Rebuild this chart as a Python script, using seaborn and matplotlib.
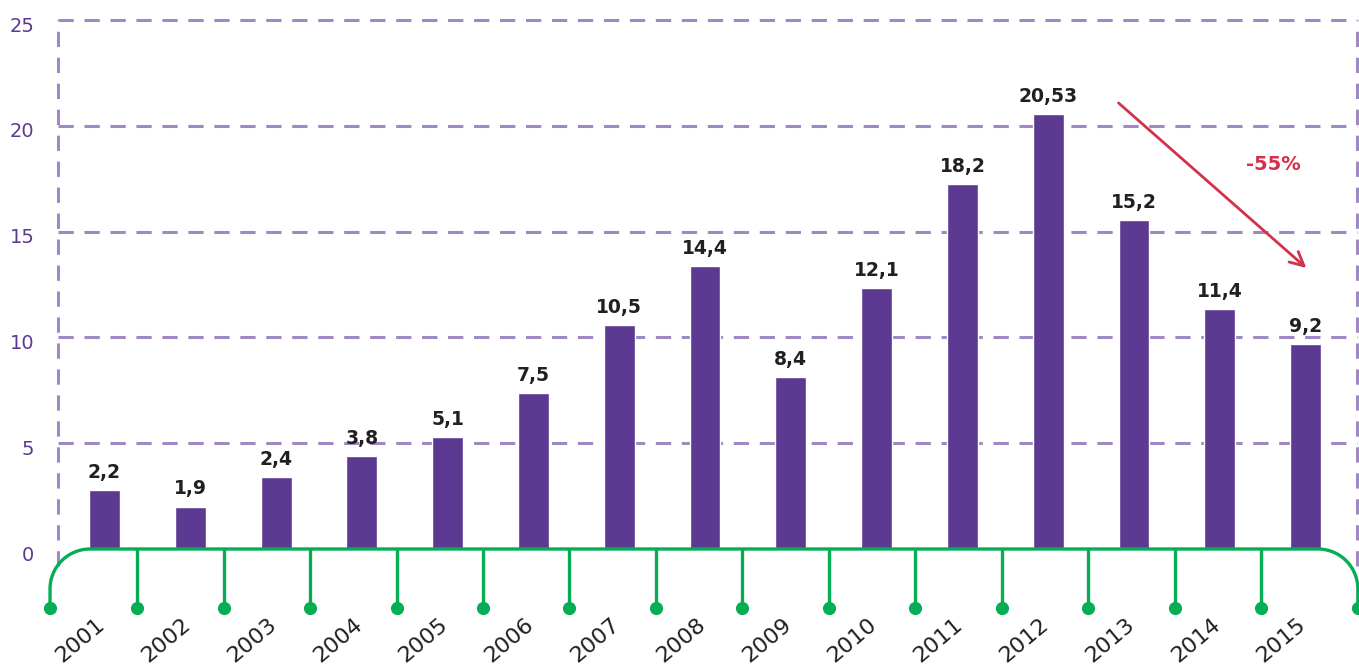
import numpy as np
import pandas as pd
import matplotlib
matplotlib.use("Agg")
import matplotlib.pyplot as plt
import matplotlib.transforms as mtransforms
import seaborn as sns

# Datos
years = ["2001", "2002", "2003", "2004", "2005", "2006", "2007", "2008",
         "2009", "2010", "2011", "2012", "2013", "2014", "2015"]
bar_heights = [2.79, 2.00, 3.40, 4.40, 5.29, 7.37, 10.59, 13.37,
               8.13, 12.33, 17.25, 20.56, 15.55, 11.34, 9.69]
value_labels = ["2,2", "1,9", "2,4", "3,8", "5,1", "7,5", "10,5", "14,4",
                "8,4", "12,1", "18,2", "20,53", "15,2", "11,4", "9,2"]
y_ticks = [0, 5, 10, 15, 20, 25]
change_label = "-55%"
change_from = (11.82, 21.08)
change_to = (14.01, 13.28)

PURPLE = "#5c3a92"
GRID = "#a088c4"
GREEN = "#05ad55"
RED = "#d4304b"
TEXT = "#231f20"

sns.set_theme(style="white")
plt.rcParams["font.family"] = ["DejaVu Sans"]

fig = plt.figure(figsize=(13.59, 6.64), dpi=100)
ax = fig.add_axes([58 / 1359, 0, 1299 / 1359, 649.3 / 664])

df = pd.DataFrame({"year": years, "value": bar_heights})
sns.barplot(data=df, x="year", y="value", color=PURPLE, width=0.36,
            saturation=1, ax=ax, zorder=3)

x0, x1 = -0.542, 14.6
ax.set_xlim(x0, x1)
ax.set_ylim(-5.435, 25.25)

# Eje Y
ax.set_yticks(y_ticks)
ax.set_yticklabels([str(t) for t in y_ticks], color=PURPLE, fontsize=14)
ax.tick_params(axis="y", length=0, pad=17)
offset = mtransforms.ScaledTranslation(0, -3 / 72, fig.dpi_scale_trans)
for lbl in ax.get_yticklabels():
    lbl.set_transform(lbl.get_transform() + offset)
ax.set_xticks([])
ax.set_xlabel("")
ax.set_ylabel("")
for s in ax.spines.values():
    s.set_visible(False)

# Rejilla punteada
for t in y_ticks[1:]:
    ax.axhline(t, color=GRID, lw=2.2, dashes=(5, 3.5), zorder=1, clip_on=False)
ax.vlines([x0, x1], -0.8, 25, colors=GRID, lw=2.2,
          linestyles=(0, (5, 3.5)), zorder=1, clip_on=False)

# Etiquetas de valor
for i, (h, lbl) in enumerate(zip(bar_heights, value_labels)):
    ax.annotate(lbl, (i, h), xytext=(0, 6), textcoords="offset points",
                ha="center", va="bottom", fontsize=13.5, fontweight="bold",
                color=TEXT)

# Linea de tiempo verde
dot_y = -2.79
rx, ry = 0.466, 1.89
left_x, right_x = -0.635, 14.61
t = np.linspace(np.pi, np.pi / 2, 30)
arc_l_x = left_x + rx + rx * np.cos(t)
arc_l_y = -ry + ry * np.sin(t)
t2 = np.linspace(np.pi / 2, 0, 30)
arc_r_x = right_x - rx + rx * np.cos(t2)
arc_r_y = -ry + ry * np.sin(t2)
path_x = np.concatenate([[left_x], arc_l_x, arc_r_x, [right_x]])
path_y = np.concatenate([[dot_y], arc_l_y, arc_r_y, [dot_y]])
ax.plot(path_x, path_y, color=GREEN, lw=2.4, clip_on=False, zorder=4,
        solid_capstyle="round")

tick_x = 0.38 + 1.008 * np.arange(len(years) - 1)
ax.vlines(tick_x, dot_y, 0, colors=GREEN, lw=2.4, zorder=4, clip_on=False)
ax.scatter(np.concatenate([[left_x], tick_x, [right_x]]),
           np.full(len(tick_x) + 2, dot_y), s=90, color=GREEN, zorder=5,
           clip_on=False, linewidths=0)

# Anios
for i, yr in enumerate(years):
    ax.text(i - 0.28, -4.3, yr, rotation=40, ha="center", va="center",
            fontsize=16, color=TEXT)

# Flecha de variacion
ax.annotate("", xy=change_to, xytext=change_from,
            arrowprops=dict(arrowstyle="->", color=RED, lw=2,
                            mutation_scale=25, shrinkA=0, shrinkB=0),
            zorder=6)
ax.text(13.63, 18.15, change_label, ha="center", va="center", fontsize=14,
        fontweight="bold", color=RED)

fig.savefig("out.png", dpi=100)
